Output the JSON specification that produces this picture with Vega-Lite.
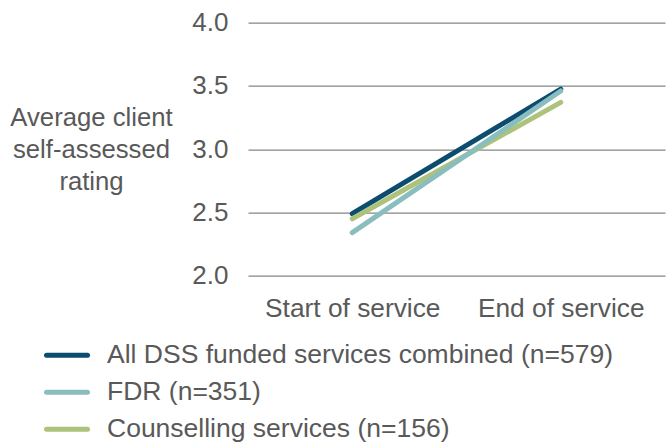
{
  "$schema": "https://vega.github.io/schema/vega-lite/v6.json",
  "width": 417,
  "height": 253,
  "autosize": {"type": "none"},
  "padding": {"left": 248, "top": 22.7, "right": 4, "bottom": 169.3},
  "background": "white",
  "config": {
    "view": {"stroke": null},
    "font": "Liberation Sans",
    "text": {"font": "Liberation Sans"}
  },
  "data": {
    "values": [
      {"series": "All DSS funded services combined (n=579)", "stage": "Start of service", "rating": 2.49},
      {"series": "All DSS funded services combined (n=579)", "stage": "End of service", "rating": 3.475},
      {"series": "Counselling services (n=156)", "stage": "Start of service", "rating": 2.45},
      {"series": "Counselling services (n=156)", "stage": "End of service", "rating": 3.37},
      {"series": "FDR (n=351)", "stage": "Start of service", "rating": 2.34},
      {"series": "FDR (n=351)", "stage": "End of service", "rating": 3.46}
    ]
  },
  "mark": {"type": "line", "strokeWidth": 5, "strokeCap": "round"},
  "encoding": {
    "x": {
      "field": "stage",
      "type": "nominal",
      "sort": ["Start of service", "End of service"],
      "scale": {"type": "point", "padding": 0.5},
      "axis": {
        "title": null,
        "labelAngle": 0,
        "ticks": false,
        "domain": false,
        "grid": false,
        "labelFont": "Liberation Sans",
        "labelFontSize": 26.3,
        "labelColor": "#595959",
        "labelPadding": 20
      }
    },
    "y": {
      "field": "rating",
      "type": "quantitative",
      "scale": {"domain": [2, 4], "nice": false, "zero": false},
      "axis": {
        "values": [2, 2.5, 3, 3.5, 4],
        "format": ".1f",
        "ticks": false,
        "domain": false,
        "grid": true,
        "gridColor": "#868686",
        "gridWidth": 1.2,
        "labelFont": "Liberation Sans",
        "labelFontSize": 26,
        "labelColor": "#595959",
        "labelPadding": 20,
        "title": ["Average client", "self-assessed", "rating"],
        "titleFont": "Liberation Sans",
        "titleFontSize": 25.7,
        "titleFontWeight": "normal",
        "titleColor": "#595959",
        "titleAngle": 0,
        "titleAlign": "center",
        "titleBaseline": "alphabetic",
        "titleX": -157,
        "titleY": 103,
        "titleLineHeight": 32
      }
    },
    "color": {
      "field": "series",
      "type": "nominal",
      "scale": {
        "domain": ["All DSS funded services combined (n=579)", "FDR (n=351)", "Counselling services (n=156)"],
        "range": ["#0B4C6F", "#8ABDBE", "#ADC27B"]
      },
      "legend": {
        "title": null,
        "orient": "none",
        "legendX": -204,
        "legendY": 309.6,
        "direction": "vertical",
        "padding": 0,
        "symbolType": "stroke",
        "symbolSize": 1681,
        "symbolStrokeWidth": 5,
        "labelFont": "Liberation Sans",
        "labelFontSize": 26.5,
        "labelColor": "#595959",
        "labelOffset": 17,
        "labelLimit": 700,
        "rowPadding": -9,
        "encode": {"symbols": {"update": {"strokeCap": {"value": "round"}}}}
      }
    }
  }
}
